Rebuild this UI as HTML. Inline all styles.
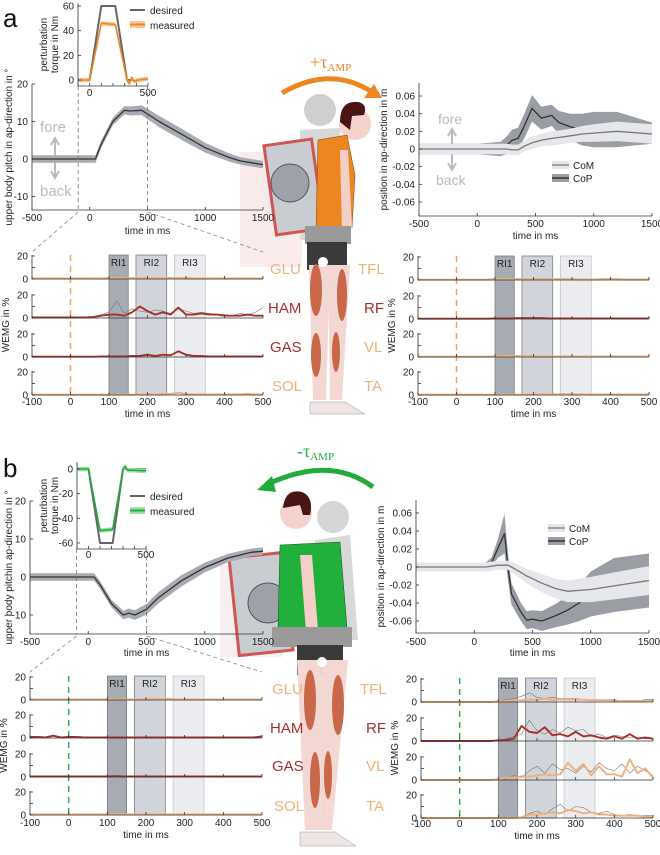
<!DOCTYPE html>
<html><head><meta charset="utf-8">
<style>
body{margin:0;background:#fff;}
svg{display:block;font-family:"Liberation Sans",sans-serif;}
.tk{font-size:10px;fill:#222;}
.lab{font-size:10px;fill:#222;}
.mus{font-size:15px;}
</style></head>
<body>
<svg id="fig" width="660" height="855" viewBox="0 0 660 855" xmlns="http://www.w3.org/2000/svg">
<text x="3" y="27" font-size="26" fill="#111">a</text>
<text x="3" y="477" font-size="26" fill="#111">b</text>

<!-- illustration a -->
<g>
  <path d="M282,93 Q330,65 372,92" fill="none" stroke="#ee8620" stroke-width="5"/>
  <polygon points="382,98 364,98 374,84" fill="#ee8620"/>
  <text x="310" y="68" font-size="18" fill="#ee8620" font-family="Liberation Serif,serif">+τ<tspan font-size="11" dy="3">AMP</tspan></text>
  <circle cx="320" cy="110" r="16" fill="#cfcfcf"/>
  <path d="M300,130 L340,128 L345,240 L300,240 Z" fill="#d8d8d8"/>
  <rect x="240" y="152" width="62" height="115" fill="#f6dede" opacity="0.6"/>
  <rect x="270" y="142" width="48" height="90" fill="#c9ccd0" stroke="#d05555" stroke-width="3" transform="rotate(-8 294 187)"/>
  <circle cx="290" cy="183" r="19" fill="#9ea2a8" stroke="#555"/>
  <circle cx="355" cy="124" r="16" fill="#f6d2cc"/>
  <path d="M340,122 Q340,100 358,102 Q368,104 364,115 L352,116 L350,130 Z" fill="#4a1414"/>
  <path d="M318,140 L347,135 L355,175 L352,228 L316,230 Z" fill="#ee8620" stroke="#7a4010" stroke-width="0.5"/>
  <path d="M340,150 L348,150 L352,228 L342,232 Z" fill="#f3cfc8"/>
  <rect x="305" y="226" width="46" height="18" fill="#9a9a9a"/>
  <rect x="307" y="242" width="40" height="28" fill="#3a3a3a"/>
  <path d="M309,265 L330,265 L326,400 L313,400 Z" fill="#f3d7d2"/>
  <path d="M328,265 L350,265 L342,400 L330,400 Z" fill="#f3d7d2"/>
  <ellipse cx="316" cy="290" rx="6" ry="26" fill="#c86848"/>
  <ellipse cx="342" cy="295" rx="5" ry="26" fill="#c86848"/>
  <ellipse cx="316" cy="355" rx="5" ry="22" fill="#c86848"/>
  <ellipse cx="336" cy="352" rx="4" ry="20" fill="#c86848"/>
  <circle cx="323" cy="262" r="5" fill="#fff"/>
  <path d="M310,402 L345,402 L365,414 L310,414 Z" fill="#efe4e4" stroke="#999" stroke-width="0.5"/>
</g>

<!-- illustration b -->
<g>
  <path d="M373,487 Q330,455 268,484" fill="none" stroke="#22aa3a" stroke-width="5"/>
  <polygon points="257,490 272,476 276,492" fill="#22aa3a"/>
  <text x="297" y="457" font-size="18" fill="#22aa3a" font-family="Liberation Serif,serif">-τ<tspan font-size="11" dy="3">AMP</tspan></text>
  <circle cx="333" cy="517" r="16" fill="#d6d6d6"/>
  <path d="M315,540 L350,535 L358,640 L320,640 Z" fill="#d8d8d8"/>
  <rect x="220" y="565" width="62" height="92" fill="#f3e8e8" opacity="0.7"/>
  <rect x="234" y="555" width="54" height="98" fill="#c9ccd0" stroke="#d05555" stroke-width="3" transform="rotate(-6 261 604)"/>
  <circle cx="268" cy="603" r="20" fill="#9ea2a8" stroke="#555"/>
  <circle cx="296" cy="513" r="16" fill="#f6d2cc"/>
  <path d="M283,508 Q285,488 302,492 Q314,497 310,515 L303,515 L300,505 Z" fill="#4a1414"/>
  <path d="M280,545 L340,542 L347,628 L278,628 Z" fill="#22b03c" stroke="#105020" stroke-width="0.5"/>
  <path d="M300,555 L312,555 L318,630 L306,632 Z" fill="#f3cfc8"/>
  <rect x="272" y="627" width="80" height="20" fill="#9a9a9a"/>
  <rect x="297" y="645" width="46" height="30" fill="#3a3a3a"/>
  <path d="M297,660 L322,660 L320,830 L305,830 Z" fill="#f3d7d2"/>
  <path d="M322,660 L348,660 L332,830 L320,830 Z" fill="#f3d7d2"/>
  <ellipse cx="310" cy="700" rx="6" ry="30" fill="#c86848"/>
  <ellipse cx="338" cy="705" rx="6" ry="30" fill="#c86848"/>
  <ellipse cx="315" cy="780" rx="5" ry="28" fill="#c86848"/>
  <ellipse cx="328" cy="775" rx="4" ry="24" fill="#c86848"/>
  <circle cx="322" cy="662" r="5" fill="#fff"/>
  <path d="M300,832 L335,832 L356,846 L300,846 Z" fill="#efe4e4" stroke="#999" stroke-width="0.5"/>
</g>

<!-- muscle labels -->
<g class="mus">
<text x="270" y="274" fill="#f0b07a">GLU</text>
<text x="268" y="313" fill="#a5302a">HAM</text>
<text x="270" y="352" fill="#a5302a">GAS</text>
<text x="272" y="391" fill="#f0b07a">SOL</text>
<text x="358" y="274" fill="#f0b07a">TFL</text>
<text x="364" y="313" fill="#a5302a">RF</text>
<text x="364" y="352" fill="#f0b07a">VL</text>
<text x="364" y="391" fill="#f0b07a">TA</text>
<text x="272" y="694" fill="#f0b07a">GLU</text>
<text x="270" y="733" fill="#a5302a">HAM</text>
<text x="272" y="771" fill="#a5302a">GAS</text>
<text x="274" y="811" fill="#f0b07a">SOL</text>
<text x="360" y="694" fill="#f0b07a">TFL</text>
<text x="366" y="733" fill="#a5302a">RF</text>
<text x="366" y="771" fill="#f0b07a">VL</text>
<text x="366" y="811" fill="#f0b07a">TA</text>
</g>

<!-- static annotations -->
<g>
<text x="40" y="132" font-size="15" fill="#bbb">fore</text>
<text x="40" y="196" font-size="15" fill="#bbb">back</text>
<path d="M55,140 L55,176 M51,145 L55,138 L59,145 M51,171 L55,178 L59,171" stroke="#bbb" stroke-width="2" fill="none"/>
<text x="438" y="124" font-size="14" fill="#bbb">fore</text>
<text x="436" y="185" font-size="14" fill="#bbb">back</text>
<path d="M452,131 L452,168 M448,136 L452,129 L456,136 M448,163 L452,170 L456,163" stroke="#bbb" stroke-width="2" fill="none"/>
</g>
<g id="plots"></g>
</svg>

<script>
// ---------- DATA ----------
const pitchA_t = [-500,0,50,100,200,300,350,450,500,600,800,1000,1200,1300,1500];
const pitchA_v = [0,0,0,4,10,13,12.8,13,12,10,6.5,3,0.5,-0.5,-1.5];
const pitchB_t = [-500,0,50,100,200,300,350,400,500,600,800,1000,1200,1400,1500];
const pitchB_v = [0,0,0,-2,-7,-10,-9.5,-10,-8.5,-5.5,-1,2.5,5,6.5,6.8];
const pitchSD = [1,1,1,1,1,1.1,1.2,1.3,1.4,1.5,1.5,1.3,1.1,1,1];

const torqA_t = [-100,0,100,220,320,340,360,380,420,500];
const torqA_des = [0,0,60,60,0,0,0,0,0,0];
const torqA_mea = [0,0,46,45,0,-3,2,-1,0,1];
const torqB_t = [-100,0,100,210,300,320,340,380,500];
const torqB_des = [0,0,-60,-60,0,0,0,0,0];
const torqB_mea = [0,0,-50,-49,0,2,-1,-1,-1.5];

const posA_t = [-500,0,100,200,250,300,350,400,470,550,640,700,800,900,1000,1200,1500];
const posA_com = [0,0,0,0,0,-0.001,-0.001,0.003,0.007,0.01,0.012,0.013,0.015,0.017,0.018,0.02,0.017];
const posA_comSD = [0.006,0.006,0.006,0.006,0.006,0.006,0.006,0.006,0.007,0.007,0.008,0.008,0.008,0.009,0.01,0.011,0.011];
const posA_cop = [0,0,0,0,0.004,0.01,0.012,0.025,0.046,0.035,0.038,0.03,0.025,0.022,0.022,0.022,0.018];
const posA_copSD = [0.006,0.006,0.007,0.008,0.01,0.012,0.012,0.014,0.015,0.013,0.012,0.013,0.015,0.018,0.02,0.02,0.012];

const posB_t = [-500,0,100,150,200,260,290,320,400,450,500,580,700,800,900,1000,1200,1500];
const posB_com = [0,0,0,0.001,0.002,0.002,0.002,0.0,-0.006,-0.01,-0.013,-0.018,-0.024,-0.027,-0.026,-0.025,-0.021,-0.015];
const posB_comSD = [0.005,0.005,0.005,0.005,0.005,0.005,0.005,0.006,0.007,0.008,0.009,0.01,0.011,0.012,0.013,0.014,0.015,0.016];
const posB_cop = [0,0,0,0.005,0.02,0.037,0.0,-0.03,-0.05,-0.059,-0.058,-0.06,-0.054,-0.048,-0.04,-0.03,-0.02,-0.015];
const posB_copSD = [0.005,0.005,0.005,0.006,0.01,0.022,0.015,0.012,0.01,0.01,0.01,0.011,0.013,0.016,0.02,0.025,0.03,0.03];

// EMG: times -100..500 step 20 (31 samples)
const emgT = [-100,-80,-60,-40,-20,0,20,40,60,80,100,120,140,160,180,200,220,240,260,280,300,320,340,360,380,400,420,440,460,480,500];
const aL_glu = [0.5,0.5,0.5,0.5,0.5,0.5,0.5,0.5,0.5,0.5,0.8,0.8,0.5,0.8,0.8,0.8,0.5,1,1,1,0.8,0.5,0.5,0.5,0.5,0.5,0.5,0.5,0.5,0.5,0.5];
const aL_ham = [0.5,0.5,0.5,0.5,0.5,0.5,0.5,0.5,1,2,3,3,2,5,10,6,3,5,3,9,3,3,4,3,3,2,2,2,3,2,2];
const aL_hamG = [0.5,0.5,0.5,0.5,0.5,0.5,0.5,1,1,3,5,15,4,8,6,5,7,6,4,8,6,4,5,4,3,3,2,4,3,5,9];
const aL_gas = [0.3,0.3,0.3,0.3,0.3,0.3,0.3,0.3,0.3,0.5,0.5,0.5,0.5,1,1,2,1,2,1.5,5,2,1,1,0.5,0.5,0.5,0.5,0.5,0.5,0.5,0.5];
const aL_sol = [0.3,0.3,0.3,0.3,0.3,0.3,0.3,0.3,0.3,0.3,0.3,0.3,0.3,0.3,0.5,0.5,0.5,1,1,2,1,0.5,0.5,0.5,0.5,0.5,0.5,0.5,1,0.5,0.5];
const aR_tfl = [0.3,0.3,0.3,0.3,0.3,0.3,0.3,0.3,0.3,0.3,0.8,0.8,0.8,0.8,0.8,0.8,0.8,0.8,0.8,0.8,0.8,0.5,0.5,0.5,0.8,1,0.8,0.5,0.5,0.5,0.5];
const aR_rf = [0.3,0.3,0.3,0.3,0.3,0.3,0.3,0.3,0.3,0.3,0.5,0.5,0.5,0.8,0.8,0.8,0.8,0.5,0.5,0.5,0.5,0.5,0.5,0.5,0.5,0.5,0.5,0.5,0.5,0.5,0.5];
const aR_vl = [0.3,0.3,0.3,0.3,0.3,0.3,0.3,0.3,0.3,0.3,0.5,1,0.8,0.8,0.8,0.8,0.5,0.5,0.5,0.5,0.5,0.5,0.5,0.5,0.5,0.5,0.5,0.5,0.5,0.5,0.5];
const aR_ta = [0.3,0.3,0.3,0.3,0.3,0.3,0.3,0.3,0.3,0.3,0.3,0.3,0.3,0.3,0.3,0.5,0.5,0.5,0.5,0.8,0.5,0.5,0.5,0.5,0.5,0.5,0.5,0.5,0.5,0.5,0.5];
const bL_glu = [0.5,0.5,0.5,0.5,0.5,0.5,0.5,0.5,0.5,0.5,0.5,0.5,0.5,0.5,0.5,0.5,1,1,1,0.5,0.5,0.5,0.5,0.5,0.5,0.5,0.5,0.5,0.5,0.5,0.5];
const bL_ham = [1,1,0.5,2,0.5,1,1,0.5,0.5,0.5,0.5,0.5,0.5,0.5,0.5,0.5,0.5,0.5,0.5,0.5,0.5,0.5,0.5,0.5,0.5,0.5,0.5,0.5,0.5,0.5,1.5];
const bL_gas = [0.5,0.5,0.5,0.5,0.5,0.5,0.5,0.5,0.5,0.5,0.5,0.8,0.5,0.5,0.5,0.5,0.5,0.5,0.5,0.5,0.5,0.5,0.5,0.5,0.5,0.5,0.5,0.5,0.5,0.5,0.5];
const bL_sol = [0.5,0.5,0.5,0.5,0.5,0.5,0.5,0.5,0.5,0.5,0.5,0.8,0.5,0.5,0.5,0.5,0.5,0.5,0.5,0.5,0.5,0.5,0.5,0.5,0.5,0.5,0.5,0.5,0.5,0.5,0.5];
const bR_tfl = [0,0,0,0,0,0,0,0,0,0,0.5,1,1.5,1.5,2,2,3,2,2,2,2,2,1.5,1.5,1.5,1,1,1,1,1,1];
const bR_tflG = [0,0,0,0,0,0,0,0,0,0,0.5,2,3,5,8,4,3,4,3,3,3,2,2,2,2,2,1,1,1,2,2];
const bR_rf = [0,0,0,0,0,0,0,0,0,0,0.5,1,2,13,8,7,12,5,6,4,8,4,5,3,2,4,2,6,2,3,2];
const bR_rfG = [0,0,0,0,0,0,0,0,0,0,0.5,2,4,6,18,9,6,10,7,12,9,10,4,6,3,5,4,3,3,2,2];
const bR_vl = [0,0,0,0,0,0,0,0,0,0,0.5,2,2,3,3,4,5,4,5,15,8,14,4,12,5,5,3,18,6,10,2];
const bR_vlG = [0,0,0,0,0,0,0,0,0,0,0.5,1,4,2,8,12,6,14,9,10,6,12,7,15,10,8,14,6,12,8,4];
const bR_ta = [0,0,0,0,0,0,0,0,0,0,0,0,0,0.5,3,3,4,5,4,7,6,4,5,3,3,2,2,2,2,1,1];
const bR_taG = [0,0,0,0,0,0,0,0,0,0,0,0,0,1,4,6,3,8,12,6,10,9,5,4,6,3,2,3,2,2,2];

const riStart = [100,170,270];
const riEnd = [150,250,350];
const riLabels = ['RI1','RI2','RI3'];

const pitchXTicks = [-500,0,500,1000,1500];
const pitchYTicks = [-10,0,10,20];
const torqAYTicks = [0,20,40,60];
const torqBYTicks = [0,-20,-40,-60];
const torqXTicks = [0,500];
const posYTicks = [-0.06,-0.04,-0.02,0,0.02,0.04,0.06];
const posYLabels = ['-0.06','-0.04','-0.02','0','0.02','0.04','0.06'];
const emgXTicks = [-100,0,100,200,300,400,500];

// ---------- HELPERS ----------
const NS='http://www.w3.org/2000/svg';
const root=document.getElementById('plots');
function mk(tag,attrs,parent){const e=document.createElementNS(NS,tag);for(const k in attrs)e.setAttribute(k,attrs[k]);(parent||root).appendChild(e);return e;}
function lin(d0,d1,r0,r1){return v=>r0+(v-d0)*(r1-r0)/(d1-d0);}
function linePath(xs,ys,X,Y){return xs.map((t,i)=>(i?'L':'M')+X(t).toFixed(1)+','+Y(ys[i]).toFixed(1)).join('');}
function bandPath(xs,ys,sd,X,Y){let p=xs.map((t,i)=>(i?'L':'M')+X(t).toFixed(1)+','+Y(ys[i]+sd[i]).toFixed(1)).join('');for(let i=xs.length-1;i>=0;i--)p+='L'+X(xs[i]).toFixed(1)+','+Y(ys[i]-sd[i]).toFixed(1);return p+'Z';}
function txt(x,y,s,opt,name){const e=mk('text',Object.assign({x:x,y:y,class:'tk'},opt||{}));e.textContent=s;
return e;}
function axes(x0,x1,yTop,yBot,X,Y,xt,xl,yt,yl,xLabY,namePrefix){
  const a=mk('path',{d:`M${x0},${yTop}L${x0},${yBot}L${x1},${yBot}`,fill:'none',stroke:'#333','stroke-width':0.8});
  
  
  xt.forEach((t,i)=>{const tk=mk('line',{x1:X(t),x2:X(t),y1:yBot,y2:yBot-3,stroke:'#333','stroke-width':0.8});
    
    
    if(xl) txt(X(t),xLabY,xl[i],{'text-anchor':'middle'},namePrefix+'-x-tick-label');});
  yt.forEach((t,i)=>{const tk=mk('line',{x1:x0,x2:x0+3,y1:Y(t),y2:Y(t),stroke:'#333','stroke-width':0.8});
    
    
    txt(x0-4,Y(t)+3.5,yl[i],{'text-anchor':'end'},namePrefix+'-y-tick-label');});
}
function rotLabel(x,y,s,name,size){const e=txt(x,y,s,{'text-anchor':'middle',transform:`rotate(-90 ${x} ${y})`,'font-size':size||10},name);return e;}
function band(xs,ys,sd,X,Y,fill,name){const e=mk('path',{d:bandPath(xs,ys,sd,X,Y),fill:fill,stroke:'none'});
return e;}
function line(xs,ys,X,Y,col,w,name,dash){const e=mk('path',{d:linePath(xs,ys,X,Y),fill:'none',stroke:col,'stroke-width':w,'stroke-linejoin':'round'});if(dash)e.setAttribute('stroke-dasharray',dash);
return e;}
function dashed(x1,y1,x2,y2,col,name,da){const e=mk('line',{x1,y1,x2,y2,stroke:col,'stroke-width':0.8,'stroke-dasharray':da||'4,3'});
return e;}

// ---------- PITCH PANELS ----------
function pitchPanel(px0,px1,y0,ppu,yBot,tt,vv,lbl,xlabY,timeY,pfx){
  const X=lin(-500,1500,px0,px1), Y=v=>y0-v*ppu;
  band(tt,vv,pitchSD,X,Y,'#a8acb2',pfx+'-band');
  line(tt,vv,X,Y,'#333',1.3,pfx+'-mean-line');
  axes(px0,px1,Y(20),yBot,X,Y,pitchXTicks,pitchXTicks.map(String),pitchYTicks,pitchYTicks.map(String),xlabY,pfx);
  if(timeY) txt((px0+px1)/2,timeY,'time in ms',{'text-anchor':'middle'},pfx+'-x-title');
  rotLabel(12,(Y(20)+yBot)/2,lbl,pfx+'-y-title');
  return X;
}
const XA=pitchPanel(32,263,159,3.75,210,pitchA_t,pitchA_v,'upper body pitch in ap-direction in °',221,234,'pitch-a');
const XB=pitchPanel(30,263,577,3.8,634,pitchB_t,pitchB_v,'upper body pitchin ap-direction in °',645,656,'pitch-b');

// ---------- TORQUE INSETS ----------
function torquePanel(x0,x1,y0,ppu,yTop,yBot,tt,des,mea,yt,col,bandCol,xlabY,legY,pfx){
  const X=lin(-100,500,x0,x1), Y=v=>y0-v*ppu;
  mk('rect',{x:x0,y:yTop,width:x1-x0,height:yBot-yTop,fill:'#fff'});
  line(tt,des,X,Y,'#666',2,pfx+'-desired-line');
  const sd=mea.map(()=>1.8);
  band(tt,mea,sd,X,Y,bandCol,pfx+'-measured-band');
  line(tt,mea,X,Y,col,1.6,pfx+'-measured-line');
  axes(x0,x1,yTop,yBot,X,Y,[-100,0,100,200,300,400,500],null,yt,yt.map(String),0,pfx);
  torqXTicks.forEach(t=>txt(X(t),xlabY,String(t),{'text-anchor':'middle'},pfx+'-x-tick-label'));
  rotLabel(47,(yTop+yBot)/2,'perturbation',pfx+'-y-title-1');
  rotLabel(58,(yTop+yBot)/2,'torque in Nm',pfx+'-y-title-2');
  const l1=mk('line',{x1:130,x2:145,y1:legY,y2:legY,stroke:'#666','stroke-width':2});
  
  
  txt(150,legY+4,'desired',{fill:'#777','font-size':10},pfx+'-legend-desired');
  const r=mk('rect',{x:130,y:legY+11,width:15,height:7,fill:bandCol});
  
  
  const l2=mk('line',{x1:130,x2:145,y1:legY+14.5,y2:legY+14.5,stroke:col,'stroke-width':2});
  
  
  txt(150,legY+19,'measured',{fill:col,'font-size':10},pfx+'-legend-measured');
  return X;
}
torquePanel(78,148,80,1.233,3,86,torqA_t,torqA_des,torqA_mea,torqAYTicks,'#ee8620','#f6c79a',96,10,'torque-a');
torquePanel(77,146,469,1.233,462,549,torqB_t,torqB_des,torqB_mea,torqBYTicks,'#22aa3a','#9ee0a8',558,496,'torque-b');

// connectors pitch->inset and pitch->emg
dashed(XA(-100),86,XA(-100),210,'#777','connector-a-left');
dashed(XA(500),86,XA(500),210,'#777','connector-a-right');
dashed(XA(-100),212,32,252,'#888','zoom-line-a-left');
dashed(XA(500),212,263,252,'#888','zoom-line-a-right');
dashed(XB(-100),549,XB(-100),634,'#777','connector-b-left');
dashed(XB(500),549,XB(500),634,'#777','connector-b-right');
dashed(XB(-100),636,30,672,'#888','zoom-line-b-left');
dashed(XB(500),636,262,672,'#888','zoom-line-b-right');

// ---------- POSITION PANELS ----------
function posPanel(x0,x1,y0,ppu,yTop,yBot,tt,com,comSD,cop,copSD,xlabY,timeY,legX,legY,pfx){
  const X=lin(-500,1500,x0,x1), Y=v=>y0-v*ppu;
  band(tt,cop,copSD,X,Y,'#9a9ea4',pfx+'-cop-band');
  line(tt,cop,X,Y,'#333',1.3,pfx+'-cop-line');
  band(tt,com,comSD,X,Y,'#e6e7ea',pfx+'-com-band');
  line(tt,com,X,Y,'#777',1.3,pfx+'-com-line');
  axes(x0,x1,yTop,yBot,X,Y,pitchXTicks,pitchXTicks.map(String),posYTicks,posYLabels,xlabY,pfx);
  txt((x0+x1)/2,timeY,'time in ms',{'text-anchor':'middle'},pfx+'-x-title');
  rotLabel(x0-32,(yTop+yBot)/2,'position in ap-direction in m',pfx+'-y-title');
  const r1=mk('rect',{x:legX,y:legY-4,width:17,height:8,fill:'#e6e7ea'});
  
  
  const l1=mk('line',{x1:legX,x2:legX+17,y1:legY,y2:legY,stroke:'#777','stroke-width':1.3});
  
  
  txt(legX+21,legY+4,'CoM',{'font-size':11},pfx+'-legend-com');
  const r2=mk('rect',{x:legX,y:legY+9,width:17,height:8,fill:'#9a9ea4'});
  
  
  const l2=mk('line',{x1:legX,x2:legX+17,y1:legY+13,y2:legY+13,stroke:'#333','stroke-width':1.5});
  
  
  txt(legX+21,legY+17,'CoP',{'font-size':11},pfx+'-legend-cop');
}
posPanel(419,652,149,883,83,216,posA_t,posA_com,posA_comSD,posA_cop,posA_copSD,227,239,552,165,'pos-a');
posPanel(416,649,567,900,500,633,posB_t,posB_com,posB_comSD,posB_cop,posB_copSD,645,656,548,528,'pos-b');

// ---------- EMG PANELS ----------
function emgPanel(x0,x1,rows,means,grays,cols,dashCol,xlabY,timeY,pfx){
  const X=lin(-100,500,x0,x1), top=rows[0]-24, bot=rows[3];
  const boxFill=['#9ea3ab','#cdd0d6','#e9eaee'], txtCol=['#333','#888','#c4c6cc'];
  riStart.forEach((s,i)=>{
    const r=mk('rect',{x:X(s),y:top,width:X(riEnd[i])-X(s),height:bot-top,fill:boxFill[i],stroke:i<2?'#666':'#bbb','stroke-width':0.7,opacity:0.9});
    
    
    txt((X(s)+X(riEnd[i]))/2,top+11,riLabels[i],{'text-anchor':'middle',fill:txtCol[i]},pfx+'-'+riLabels[i].toLowerCase()+'-label');
  });
  dashed(X(0),top,X(0),bot,dashCol,pfx+'-onset-line','6,5').setAttribute('stroke-width',1.5);
  rows.forEach((y0,r)=>{
    const Y=v=>y0-v*1.15;
    if(grays[r]) line(emgT,grays[r],X,Y,'#777',0.6,pfx+'-row'+r+'-trial-trace');
    line(emgT,means[r],X,Y,cols[r],1.9,pfx+'-row'+r+'-mean-trace');
    axes(x0,x1,Y(20)-1,y0,X,Y,emgXTicks,r===3?emgXTicks.map(String):null,[0,10,20],['0','','20'],xlabY,pfx+'-row'+r);
  });
  txt((x0+x1)/2,timeY,'time in ms',{'text-anchor':'middle'},pfx+'-x-title');
  rotLabel(x0-23,(top+bot)/2,'WEMG in %',pfx+'-y-title');
}
const LO='#f0b07a', DR='#a5302a';
emgPanel(32,263,[279,318,357,395],[aL_glu,aL_ham,aL_gas,aL_sol],[null,aL_hamG,null,null],[LO,DR,DR,LO],'#f0a060',405,417,'emg-a-left');
emgPanel(418,649,[280,319,357,395],[aR_tfl,aR_rf,aR_vl,aR_ta],[null,null,null,null],[LO,DR,LO,LO],'#f0a060',405,417,'emg-a-right');
emgPanel(30,262,[700,738,777,815],[bL_glu,bL_ham,bL_gas,bL_sol],[null,null,null,null],[LO,DR,DR,LO],'#30b050',826,838,'emg-b-left');
emgPanel(421,653,[702,741,780,818],[bR_tfl,bR_rf,bR_vl,bR_ta],[bR_tflG,bR_rfG,bR_vlG,bR_taG],[LO,DR,LO,LO],'#30b050',827,839,'emg-b-right');
</script>
</body></html>
